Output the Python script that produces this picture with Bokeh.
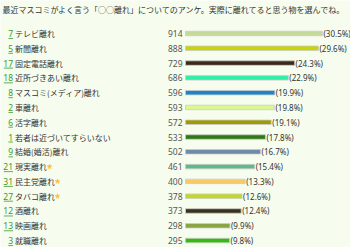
from bokeh.plotting import figure
from bokeh.models import Range1d, Label, ColumnDataSource
from bokeh.core.properties import value
from bokeh.embed import file_html
from bokeh.resources import INLINE

title_text = "最近マスコミがよく言う「○○離れ」についてのアンケ。実際に離れてると思う物を選んでね。"
ids = ["7", "5", "17", "18", "8", "2", "6", "1", "9", "21", "31", "27", "12", "13", "3"]
labels = ["テレビ離れ", "新聞離れ", "固定電話離れ", "近所づきあい離れ", "マスコミ(メディア)離れ",
          "車離れ", "活字離れ", "若者は近づいてすらいない", "結婚(婚活)離れ", "現実離れ",
          "民主党離れ", "タバコ離れ", "酒離れ", "映画離れ", "就職離れ"]
votes = [914, 888, 729, 686, 596, 593, 572, 533, 502, 461, 400, 378, 373, 298, 295]
percents = [30.5, 29.6, 24.3, 22.9, 19.9, 19.8, 19.1, 17.8, 16.7, 15.4, 13.3, 12.6, 12.4, 9.9, 9.8]
starred = [False] * 9 + [True, True, True] + [False] * 3
colors = ["#c5d99a", "#c6d600", "#3b2a16", "#2cf0a6", "#2185c5", "#dcf78e", "#a09a06",
          "#2e7a12", "#6f89aa", "#5fba8a", "#f8c966", "#c2d824", "#38321a", "#8aa444", "#35ba12"]

W, H = 350, 247
BG = "#f6fdef"
PX = 4.49          # pixels per percent
BAR_X0 = 185       # pixel where bars start
ROW0 = 33          # pixel centre of first row
ROW_H = 14.79      # pixels per row
LABEL_X = 14.5
FONT = "Noto Sans CJK JP"
FS = "8px"

def xd(px):
    return (px - BAR_X0) / PX

rows = list(range(len(labels)))
src = ColumnDataSource(dict(
    y=rows, pct=percents, color=colors, label=labels, id=ids,
    votes=[str(v) for v in votes], ptxt=["(%.1f%%)" % v for v in percents],
    zero=[0] * len(rows),
))

p = figure(width=W, height=H, output_backend="svg", toolbar_location=None,
           x_range=Range1d(xd(0), xd(W)),
           y_range=Range1d((H - ROW0) / ROW_H, -ROW0 / ROW_H),
           min_border=0, x_axis_location=None, y_axis_location=None)
p.grid.visible = False
p.outline_line_color = None
p.background_fill_color = BG
p.border_fill_color = BG

p.hbar(y="y", left=0, right="pct", height=4.5 / ROW_H, fill_color="color",
       line_color="#cccccc", line_width=0.8, source=src)

p.text(x="pct", y="y", text="ptxt", x_offset=1, text_align="left", text_baseline="middle",
       text_font=value("Noto Sans"), text_font_size=FS, text_color="#333333", source=src)
p.text(x="zero", y="y", text="votes", x_offset=-3, text_align="right", text_baseline="middle",
       text_font=value("Noto Sans"), text_font_size="8.5px", text_color="#555555", source=src)

xs = xd(0)
p.text(x=[xs] * len(rows), y=rows, text=ids, x_offset=LABEL_X - 2, text_align="right",
       text_baseline="middle", text_font=value("Noto Sans"), text_font_size="8.5px",
       text_color="#3d9a2c")
p.text(x=[xs] * len(rows), y=rows, text=labels, x_offset=LABEL_X, text_align="left",
       text_baseline="middle", text_font=value(FONT), text_font_size=FS, text_color="#333333")

# underlines under the id links
ux0 = [xd(LABEL_X - 2 - 4.6 * len(s)) for s in ids]
ux1 = [xd(LABEL_X - 2)] * len(ids)
uy = [r + 5 / ROW_H for r in rows]
p.segment(x0=ux0, y0=uy, x1=ux1, y1=uy, line_color="#3d9a2c", line_width=0.8)

# small orange marks after some labels
sx = [xd(LABEL_X + 8 * len(l) + 2.5) for l, s in zip(labels, starred) if s]
sy = [r for r, s in zip(rows, starred) if s]
p.scatter(x=sx, y=sy, marker="star", size=5, fill_color="#ffaa22", line_color="#ffcc66")

p.add_layout(Label(x=2, y=H - 9, x_units="screen", y_units="screen", text=title_text,
                   text_baseline="middle", text_font=FONT, text_font_size=FS,
                   text_color="#333333"))

open("out.html", "w").write(file_html(p, INLINE))
